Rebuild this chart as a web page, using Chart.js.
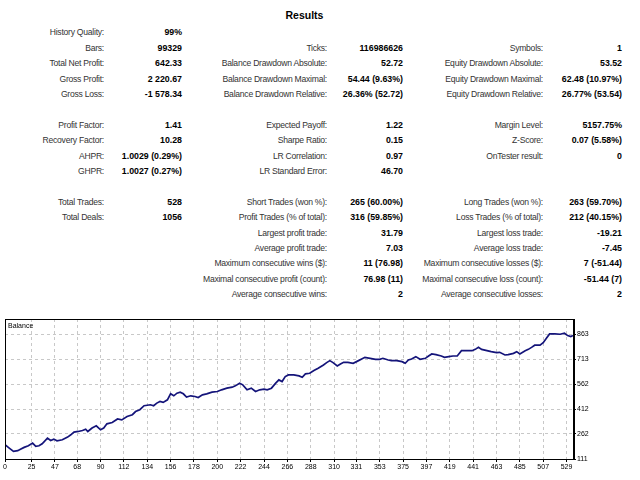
<!DOCTYPE html>
<html>
<head>
<meta charset="utf-8">
<title>Results</title>
<script src="https://cdn.jsdelivr.net/npm/chart.js@4.4.1/dist/chart.umd.min.js"></script>
<style>
    body { margin: 0; background: #fff; }
    #page { position: relative; width: 640px; height: 480px; overflow: hidden; font-family: "Liberation Sans", Arial, sans-serif; }
    .lbl, .val { position: absolute; white-space: nowrap; line-height: 12px; }
    .lbl { font-size: 8.6px; letter-spacing: -0.25px; color: #333; }
    .val { font-size: 8.8px; font-weight: bold; color: #000; }
    #title { position: absolute; top: 9px; left: 0; width: 609px; text-align: center; font-weight: bold; font-size: 10.5px; }
    #wrap { position: absolute; left: 0; top: 305px; width: 640px; height: 175px; }
    #balanceLbl { position: absolute; left: 8px; top: 322px; font-size: 7px; color: #000; }
</style>
</head>
<body>
<div id="page">
    <div id="title">Results</div>
    <div id="wrap"><canvas id="graficoBalance" width="640" height="175"></canvas></div>
    <div id="balanceLbl">Balance</div>
</div>
<script>
// report table, one array per column (18 rows, '' = empty cell)
const col1Labels = ['History Quality:', 'Bars:', 'Total Net Profit:', 'Gross Profit:', 'Gross Loss:', '',
    'Profit Factor:', 'Recovery Factor:', 'AHPR:', 'GHPR:', '', 'Total Trades:', 'Total Deals:', '', '', '', '', ''];
const col1Values = ['99%', '99329', '642.33', '2 220.67', '-1 578.34', '',
    '1.41', '10.28', '1.0029 (0.29%)', '1.0027 (0.27%)', '', '528', '1056', '', '', '', '', ''];
const col2Labels = ['', 'Ticks:', 'Balance Drawdown Absolute:', 'Balance Drawdown Maximal:', 'Balance Drawdown Relative:', '',
    'Expected Payoff:', 'Sharpe Ratio:', 'LR Correlation:', 'LR Standard Error:', '',
    'Short Trades (won %):', 'Profit Trades (% of total):', 'Largest profit trade:', 'Average profit trade:',
    'Maximum consecutive wins ($):', 'Maximal consecutive profit (count):', 'Average consecutive wins:'];
const col2Values = ['', '116986626', '52.72', '54.44 (9.63%)', '26.36% (52.72)', '',
    '1.22', '0.15', '0.97', '46.70', '', '265 (60.00%)', '316 (59.85%)', '31.79', '7.03', '11 (76.98)', '76.98 (11)', '2'];
const col3Labels = ['', 'Symbols:', 'Equity Drawdown Absolute:', 'Equity Drawdown Maximal:', 'Equity Drawdown Relative:', '',
    'Margin Level:', 'Z-Score:', 'OnTester result:', '', '',
    'Long Trades (won %):', 'Loss Trades (% of total):', 'Largest loss trade:', 'Average loss trade:',
    'Maximum consecutive losses ($):', 'Maximal consecutive loss (count):', 'Average consecutive losses:'];
const col3Values = ['', '1', '53.52', '62.48 (10.97%)', '26.77% (53.54)', '',
    '5157.75%', '0.07 (5.58%)', '0', '', '', '263 (59.70%)', '212 (40.15%)', '-19.21', '-7.45', '7 (-51.44)', '-51.44 (7)', '2'];

// balance curve (trade number -> balance)
const tradeIdx = [0, 4, 8, 12, 15, 18, 22, 26, 29, 32, 35, 40, 43, 46, 49, 54, 59, 62, 65, 69, 73, 76, 78, 82, 86,
    90, 93, 96, 101, 106, 110, 115, 120, 123, 127, 131, 137, 140, 143, 146, 149, 153, 156, 159, 162, 165, 168,
    171, 175, 179, 182, 186, 190, 195, 200, 204, 209, 214, 217, 221, 224, 228, 232, 236, 240, 244, 247, 251,
    255, 258, 261, 264, 267, 272, 277, 280, 283, 287, 291, 295, 300, 303, 306, 309, 313, 316, 319, 323, 328,
    333, 336, 339, 344, 349, 353, 356, 361, 364, 369, 374, 377, 380, 383, 387, 391, 396, 399, 402, 406, 411,
    414, 418, 422, 426, 430, 435, 440, 443, 446, 449, 454, 458, 463, 466, 471, 474, 479, 482, 485, 490, 493,
    496, 499, 504, 507, 510, 513, 518, 523, 527, 530, 533, 535];
const balance = [197, 177, 157, 161, 171, 181, 191, 207, 187, 191, 203, 237, 223, 231, 221, 227, 243, 257, 273, 277,
    283, 291, 277, 298, 311, 287, 298, 323, 331, 352, 347, 367, 378, 397, 408, 432, 438, 432, 448, 458, 452,
    468, 504, 492, 508, 514, 504, 484, 492, 488, 482, 498, 504, 514, 518, 528, 538, 544, 552, 568, 558, 528,
    538, 518, 528, 532, 528, 538, 568, 588, 578, 608, 618, 618, 612, 604, 624, 628, 644, 658, 678, 692, 704,
    692, 672, 684, 694, 694, 688, 704, 714, 724, 718, 712, 712, 718, 708, 704, 704, 698, 688, 708, 714, 728,
    712, 718, 732, 744, 740, 732, 724, 728, 732, 732, 764, 764, 764, 772, 784, 772, 764, 758, 752, 754, 738,
    740, 748, 758, 744, 764, 772, 784, 797, 797, 812, 839, 865, 865, 863, 869, 855, 849, 855];

const xTicks = [0, 25, 47, 68, 90, 112, 134, 156, 178, 200, 222, 244, 266, 288, 310, 331, 353, 375, 397, 419, 441, 463, 485, 507, 529];
const yTicks = [111, 262, 412, 562, 713, 863];

document.addEventListener('DOMContentLoaded', () => {
    const page = document.getElementById('page');
    const labelRight = [104, 327, 543];
    const valueRight = [182, 403, 622];
    const columns = [[col1Labels, col1Values], [col2Labels, col2Values], [col3Labels, col3Values]];

    columns.forEach(([labels, values], c) => {
        labels.forEach((text, r) => {
            const top = 32.3 + r * 15.4 - 6;
            if (text) {
                const d = document.createElement('div');
                d.className = 'lbl';
                d.textContent = text;
                d.style.right = (640 - labelRight[c]) + 'px';
                d.style.top = top + 'px';
                page.appendChild(d);
            }
            if (values[r]) {
                const v = document.createElement('div');
                v.className = 'val';
                v.textContent = values[r];
                v.style.right = (640 - valueRight[c]) + 'px';
                v.style.top = top + 'px';
                page.appendChild(v);
            }
        });
    });

    // black frame round the plot area
    const frame = {
        id: 'frame',
        afterDraw(chart) {
            const { ctx, chartArea: a } = chart;
            ctx.save();
            ctx.strokeStyle = '#000';
            ctx.lineWidth = 1;
            ctx.strokeRect(a.left + 0.5, a.top + 0.5, a.right - a.left - 1, a.bottom - a.top);
            ctx.restore();
        }
    };

    const tickFont = { family: '"Liberation Sans", Arial, sans-serif', size: 7 };

    new Chart(document.getElementById('graficoBalance'), {
        type: 'line',
        data: {
            datasets: [{
                label: 'Balance',
                data: tradeIdx.map((t, i) => ({ x: t, y: balance[i] })),
                borderColor: '#14147a',
                borderWidth: 1.7,
                pointRadius: 0,
                tension: 0,
                fill: false
            }]
        },
        options: {
            responsive: false,
            animation: false,
            layout: { padding: { left: 5, top: 14, right: 0, bottom: 0 } },
            plugins: { legend: { display: false }, tooltip: { enabled: false } },
            scales: {
                x: {
                    type: 'linear',
                    min: 0,
                    max: 536,
                    afterBuildTicks: s => { s.ticks = xTicks.map(v => ({ value: v })); },
                    afterFit: s => { s.height = 21; },
                    grid: { color: '#c8c8c8', tickColor: '#000', tickLength: 3 },
                    border: { color: '#000', dash: [3, 3] },
                    ticks: { font: tickFont, color: '#000', padding: 1, maxRotation: 0, autoSkip: false }
                },
                y: {
                    position: 'right',
                    min: 111,
                    max: 955,
                    afterBuildTicks: s => { s.ticks = yTicks.map(v => ({ value: v })); },
                    afterFit: s => { s.width = 66; },
                    grid: { color: '#c8c8c8', tickColor: '#000', tickLength: 2 },
                    border: { color: '#000', dash: [3, 3] },
                    ticks: { font: tickFont, color: '#000', padding: 1 }
                }
            }
        },
        plugins: [frame]
    });
});
</script>
</body>
</html>
